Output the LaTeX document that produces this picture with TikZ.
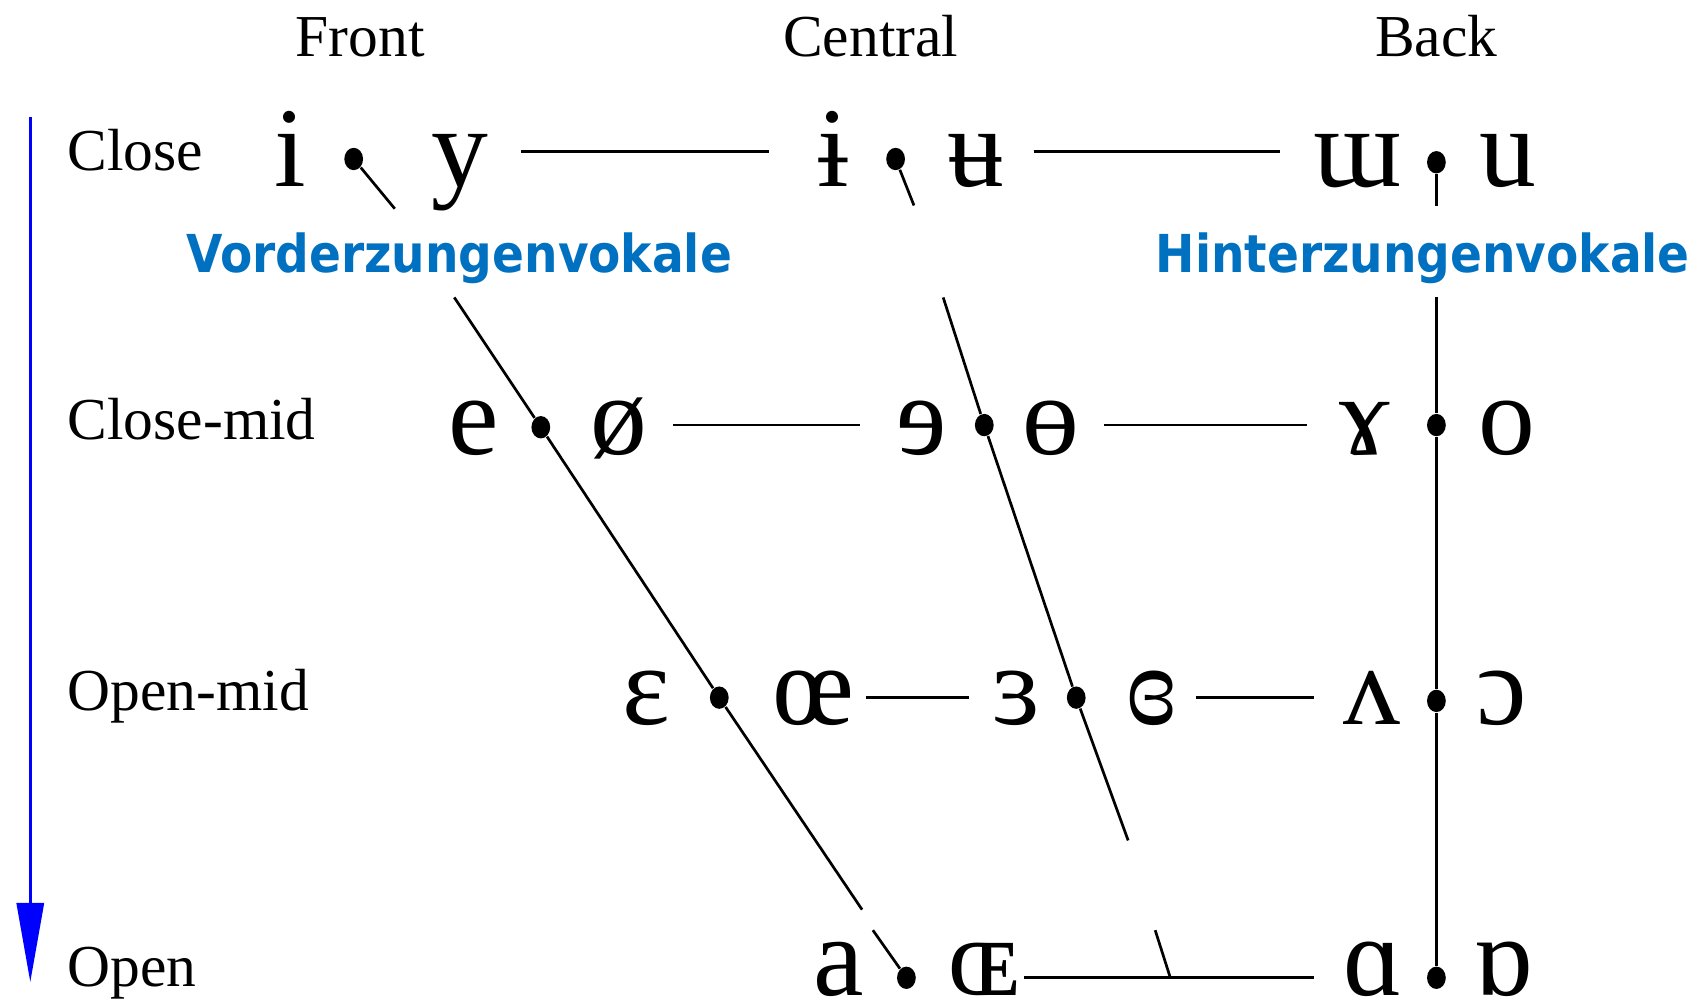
\documentclass[tikz,border=0pt]{standalone}
\usepackage{fontspec}
\setmainfont{Liberation Serif}
\newfontfamily\zungefont{DejaVu Sans Condensed}
\usetikzlibrary{arrows.meta,shapes.geometric}
\definecolor{zungeblau}{HTML}{0070C0}

\tikzset{
  vowel/.style={font=\fontsize{31.5}{36}\selectfont, inner sep=0pt, anchor=base},
  place/.style={font=\fontsize{16.5}{20}\selectfont, inner sep=0pt, anchor=base},
  height/.style={font=\fontsize{16.5}{20}\selectfont, inner sep=0pt, anchor=base west},
  zunge/.style={font=\zungefont\bfseries\fontsize{14.5}{17}\selectfont, text=zungeblau, inner sep=0pt, anchor=base west},
  pt/.style={ellipse, fill=black, inner sep=0pt, minimum width=5.2pt, minimum height=6.2pt},
  edge/.style={draw, line width=0.75pt}
}

\begin{document}
\begin{tikzpicture}[x=0.3pt, y=-0.3pt]
  \useasboundingbox (0,0) rectangle (1568,928);

  % column and row heads
  \node[place] (front) at (333,52) {Front};
  \node[place] (central) at (805,52) {Central};
  \node[place] (back) at (1328,52) {Back};

  \node[height] (close) at (62,158) {Close};
  \node[height] (closemid) at (62,406) {Close-mid};
  \node[height] (openmid) at (62,657) {Open-mid};
  \node[height] (open) at (62,912) {Open};

  % vowels
  \begin{scope}[every node/.style={vowel}]
    \node (i) at (268,172) {i};
    \node (y) at (425,172) {y};
    \node (ibar) at (770,172) {ɨ};
    \node (ubar) at (902,172) {ʉ};
    \node (mturn) at (1255,172) {ɯ};
    \node (u) at (1394,172) {u};

    \node (e) at (438,420) {e};
    \node (oslash) at (572,420) {ø};
    \node (erev) at (852,420) {ɘ};
    \node (obar) at (972,420) {ɵ};
    \node (ramshorn) at (1262,420) {ɤ};
    \node (o) at (1393,420) {o};

    \node (eps) at (598,670) {ɛ};
    \node (oe) at (752,670) {œ};
    \node (epsrev) at (940,670) {ɜ};
    \node (epsclosed) at (1065,670) {ɞ};
    \node (vturn) at (1268,670) {ʌ};
    \node (oopen) at (1388,670) {ɔ};

    \node (a) at (775,920) {a};
    \node (OE) at (910,920) {ɶ};
    \node (alpha) at (1270,920) {ɑ};
    \node (alphaturn) at (1390,920) {ɒ};
  \end{scope}

  % dots
  \begin{scope}[every node/.style={pt}]
    \node (d1f) at (327,147) {};
    \node (d1c) at (828,147) {};
    \node (d1b) at (1328,150) {};
    \node (d2f) at (500,395) {};
    \node (d2c) at (910,393) {};
    \node (d2b) at (1328,393) {};
    \node (d3f) at (665,645) {};
    \node (d3c) at (995,645) {};
    \node (d3b) at (1328,648) {};
    \node (d4f) at (838,904) {};
    \node (d4b) at (1328,904) {};
  \end{scope}

  % gaps in the slanted lines
  \coordinate (f1) at (365,193);
  \coordinate (f2) at (420,275);
  \coordinate (f3) at (797,841);
  \coordinate (f4) at (807,860);
  \coordinate (c1) at (845,190);
  \coordinate (c2) at (872,275);
  \coordinate (c3) at (1043,777);
  \coordinate (c4) at (1068,860);
  \coordinate (ctick) at (1082,904);
  \coordinate (b1) at (1328,190);
  \coordinate (b2) at (1328,275);

  % slanted and vertical lines
  \path[edge] (d1f) -- (f1);
  \path[edge] (f2) -- (d2f) -- (d3f) -- (f3);
  \path[edge] (f4) -- (d4f);
  \path[edge] (d1c) -- (c1);
  \path[edge] (c2) -- (d2c) -- (d3c) -- (c3);
  \path[edge] (c4) -- (ctick);
  \path[edge] (d1b) -- (b1);
  \path[edge] (b2) -- (d2b) -- (d3b) -- (d4b);

  % horizontal lines
  \path[edge, shorten <=9pt, shorten >=13pt] ([yshift=9.6pt]y.base east) -- ([yshift=9.6pt]ibar.base west);
  \path[edge, shorten <=8pt, shorten >=9pt] ([yshift=9.6pt]ubar.base east) -- ([yshift=9.6pt]mturn.base west);
  \path[edge, shorten <=7pt, shorten >=10pt] ([yshift=8.1pt]oslash.base east) -- ([yshift=8.1pt]erev.base west);
  \path[edge, shorten <=6.5pt, shorten >=9pt] ([yshift=8.1pt]obar.base east) -- ([yshift=8.1pt]ramshorn.base west);
  \path[edge, shorten <=3pt, shorten >=6.5pt] ([yshift=7.5pt]oe.base east) -- ([yshift=7.5pt]epsrev.base west);
  \path[edge, shorten <=5pt, shorten >=8pt] ([yshift=7.5pt]epsclosed.base east) -- ([yshift=7.5pt]vturn.base west);
  \path[edge, shorten <=1pt, shorten >=8pt] ([yshift=4.8pt]OE.base east) -- ([yshift=4.8pt]alpha.base west);

  % labels
  \node[zunge] (vorder) at (172,252) {Vorderzungenvokale};
  \node[zunge] (hinter) at (1068,252) {Hinterzungenvokale};

  % arrow
  \coordinate (top) at (28,108);
  \coordinate (bottom) at (28,908);
  \draw[blue, line width=0.9pt, -{Triangle[length=22pt, width=7.5pt]}] (top) -- (bottom);

\end{tikzpicture}
\end{document}
